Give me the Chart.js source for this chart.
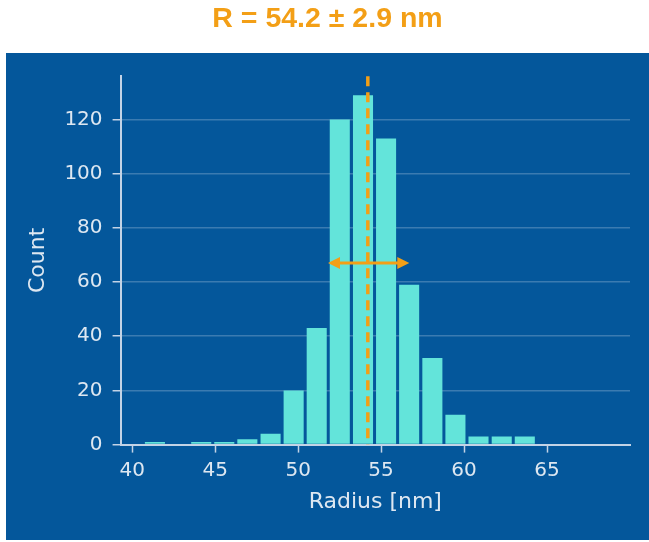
<!DOCTYPE html>
<html>
<head>
<meta charset="utf-8">
<script src="https://cdn.jsdelivr.net/npm/chart.js@4/dist/chart.umd.min.js"></script>
<style>
  html, body { margin: 0; padding: 0; background: #ffffff; }
  #wrap { width: 649px; height: 542px; }
</style>
</head>
<body>
<div id="wrap"><canvas id="histChart" width="649" height="542"></canvas></div>
<script>
// histogram bins (centre of each bin, nm) and counts
const binCenters = [41.37, 42.76, 44.16, 45.55, 46.94, 48.34, 49.73, 51.12, 52.51,
                    53.91, 55.30, 56.69, 58.09, 59.48, 60.87, 62.27, 63.66];
const counts = [1, 0, 1, 1, 2, 4, 20, 43, 120, 129, 113, 59, 32, 11, 3, 3, 3];
const xTicks = [40, 45, 50, 55, 60, 65];
const yTicks = [0, 20, 40, 60, 80, 100, 120];

// fit result
const meanR = 54.2;
const stdR = 2.9;
const arrowEnds = [51.8, 56.7]; // drawn width of the arrow
const arrowLevel = 67;

const BLUE = "#04579B";
const BAR = "#63E4DA";
const ORANGE = "#F39F16";
const LIGHT = "#DDE7F1";
const SPINE = "#C3D3E6";

// blue panel behind the axes
const panelPlugin = {
  id: "panel",
  beforeDraw(chart) {
    const ctx = chart.ctx;
    ctx.save();
    ctx.fillStyle = BLUE;
    ctx.fillRect(6, 53, chart.width - 6, 487);
    ctx.restore();
  }
};

// dashed mean line + double arrow for the std
const markerPlugin = {
  id: "markers",
  afterDatasetsDraw(chart) {
    const ctx = chart.ctx;
    const x = chart.scales.x, y = chart.scales.y;
    const mx = x.getPixelForValue(meanR);

    ctx.save();
    ctx.strokeStyle = ORANGE;
    ctx.lineWidth = 3.5;
    ctx.setLineDash([10, 6]);
    ctx.beginPath();
    ctx.moveTo(mx, chart.chartArea.top);
    ctx.lineTo(mx, y.getPixelForValue(0));
    ctx.stroke();

    const ay = y.getPixelForValue(arrowLevel);
    const xl = x.getPixelForValue(arrowEnds[0]);
    const xr = x.getPixelForValue(arrowEnds[1]);
    const head = 12, half = 6;
    ctx.setLineDash([]);
    ctx.lineWidth = 3;
    ctx.beginPath();
    ctx.moveTo(xl + head - 2, ay);
    ctx.lineTo(xr - head + 2, ay);
    ctx.stroke();
    ctx.fillStyle = ORANGE;
    ctx.beginPath();
    ctx.moveTo(xl, ay);
    ctx.lineTo(xl + head, ay - half);
    ctx.lineTo(xl + head, ay + half);
    ctx.closePath();
    ctx.fill();
    ctx.beginPath();
    ctx.moveTo(xr, ay);
    ctx.lineTo(xr - head, ay - half);
    ctx.lineTo(xr - head, ay + half);
    ctx.closePath();
    ctx.fill();
    ctx.restore();
  }
};

const tickFont = { family: "DejaVu Sans", size: 20 };
const titleFont = { family: "DejaVu Sans", size: 22 };

new Chart(document.getElementById("histChart"), {
  type: "bar",
  data: {
    datasets: [{
      label: "Count",
      data: binCenters.map((c, i) => ({ x: c, y: counts[i] })),
      backgroundColor: BAR,
      borderWidth: 0,
      barPercentage: 0.87,
      categoryPercentage: 1.0
    }]
  },
  options: {
    responsive: false,
    animation: false,
    layout: { padding: { left: 25, right: 19, top: 0, bottom: 27 } },
    plugins: {
      legend: { display: false },
      tooltip: { enabled: false },
      title: {
        display: true,
        text: `R = ${meanR} ± ${stdR} nm`,
        color: ORANGE,
        font: { family: "Liberation Sans", size: 28.5, weight: "bold" },
        padding: { top: 2, bottom: 40 }
      }
    },
    scales: {
      x: {
        type: "linear",
        offset: false,
        min: 39.3,
        max: 70,
        afterBuildTicks: (scale) => { scale.ticks = xTicks.map(v => ({ value: v })); },
        ticks: { color: LIGHT, font: tickFont, padding: 6, maxRotation: 0 },
        grid: { offset: false, drawOnChartArea: false, drawTicks: true, tickLength: 8, tickColor: SPINE, tickWidth: 1.5 },
        border: { display: true, color: SPINE, width: 2 },
        title: { display: true, text: "Radius [nm]", color: LIGHT, font: titleFont, padding: { top: 0, bottom: 0 } }
      },
      y: {
        min: 0,
        max: 136,
        afterBuildTicks: (scale) => { scale.ticks = yTicks.map(v => ({ value: v })); },
        ticks: { color: LIGHT, font: tickFont, padding: 10 },
        grid: { color: "rgba(255,255,255,0.22)", lineWidth: 1.5, tickLength: 8, tickColor: SPINE, tickWidth: 1.5 },
        border: { display: true, color: SPINE, width: 2 },
        title: { display: true, text: "Count", color: LIGHT, font: titleFont, padding: { top: 0, bottom: 3 } }
      }
    }
  },
  plugins: [panelPlugin, markerPlugin]
});
</script>
</body>
</html>
